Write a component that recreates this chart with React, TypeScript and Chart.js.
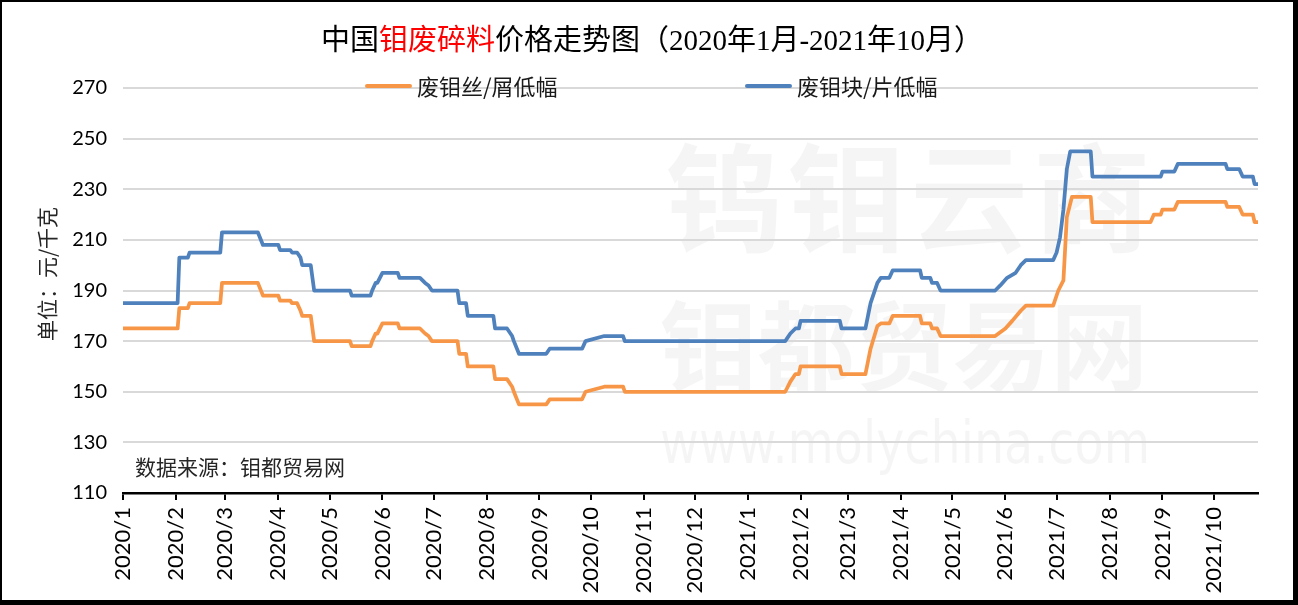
import React, { useEffect, useRef } from "react";
import { Chart, registerables } from "chart.js";

Chart.register(...registerables);

const monthLabels = [
  "2020/1", "2020/2", "2020/3", "2020/4", "2020/5", "2020/6", "2020/7", "2020/8",
  "2020/9", "2020/10", "2020/11", "2020/12", "2021/1", "2021/2", "2021/3", "2021/4",
  "2021/5", "2021/6", "2021/7", "2021/8", "2021/9", "2021/10",
];
const firstDate = "2020-01-01";
const lastDate = "2021-10-27";

const seriesNames = ["废钼丝/屑低幅", "废钼块/片低幅"];
const seriesColors = ["#F79646", "#4F81BD"];

const wireDates = [
  "2020-01-01", "2020-02-02", "2020-02-03", "2020-02-08", "2020-02-09", "2020-02-27", "2020-02-28", "2020-03-20",
  "2020-03-23", "2020-04-01", "2020-04-02", "2020-04-08", "2020-04-09", "2020-04-12", "2020-04-14", "2020-04-15",
  "2020-04-20", "2020-04-22", "2020-05-13", "2020-05-14", "2020-05-25", "2020-05-26", "2020-05-28", "2020-05-29",
  "2020-06-01", "2020-06-10", "2020-06-11", "2020-06-23", "2020-06-26", "2020-06-28", "2020-06-30", "2020-07-15",
  "2020-07-16", "2020-07-20", "2020-07-21", "2020-08-05", "2020-08-06", "2020-08-13", "2020-08-16", "2020-08-17",
  "2020-08-20", "2020-09-05", "2020-09-07", "2020-09-26", "2020-09-28", "2020-10-09", "2020-10-20", "2020-10-21",
  "2021-01-23", "2021-01-26", "2021-01-29", "2021-01-31", "2021-02-01", "2021-02-24", "2021-02-25", "2021-03-11",
  "2021-03-14", "2021-03-18", "2021-03-20", "2021-03-25", "2021-03-27", "2021-04-12", "2021-04-13", "2021-04-18",
  "2021-04-19", "2021-04-22", "2021-04-24", "2021-05-26", "2021-06-01", "2021-06-05", "2021-06-10", "2021-06-13",
  "2021-06-29", "2021-07-02", "2021-07-05", "2021-07-07", "2021-07-10", "2021-07-21", "2021-07-22", "2021-08-25",
  "2021-08-27", "2021-08-31", "2021-09-01", "2021-09-08", "2021-09-10", "2021-10-08", "2021-10-09", "2021-10-16",
  "2021-10-18", "2021-10-24", "2021-10-25", "2021-10-27",
];
const wireValues = [
  175, 175, 183, 183, 185, 185, 193, 193,
  188, 188, 186, 186, 185, 185, 182, 180,
  180, 170, 170, 168, 168, 170, 173, 173,
  177, 177, 175, 175, 173, 172, 170, 170,
  165, 165, 160, 160, 155, 155, 152, 150,
  145, 145, 147, 147, 150, 152, 152, 150,
  150, 154, 157, 157, 160, 160, 157, 157,
  167, 176, 177, 177, 180, 180, 177, 177,
  175, 175, 172, 172, 175, 178, 182, 184,
  184, 190, 194, 219, 227, 227, 217, 217,
  220, 220, 222, 222, 225, 225, 223, 223,
  220, 220, 217, 217,
];

const blockDates = [
  "2020-01-01", "2020-02-02", "2020-02-03", "2020-02-08", "2020-02-09", "2020-02-27", "2020-02-28", "2020-03-20",
  "2020-03-23", "2020-04-01", "2020-04-02", "2020-04-08", "2020-04-09", "2020-04-12", "2020-04-14", "2020-04-15",
  "2020-04-20", "2020-04-22", "2020-05-13", "2020-05-14", "2020-05-25", "2020-05-26", "2020-05-28", "2020-05-29",
  "2020-06-01", "2020-06-10", "2020-06-11", "2020-06-23", "2020-06-26", "2020-06-28", "2020-06-30", "2020-07-15",
  "2020-07-16", "2020-07-20", "2020-07-21", "2020-08-05", "2020-08-06", "2020-08-13", "2020-08-16", "2020-08-17",
  "2020-08-20", "2020-09-05", "2020-09-07", "2020-09-26", "2020-09-28", "2020-10-09", "2020-10-20", "2020-10-21",
  "2021-01-23", "2021-01-26", "2021-01-29", "2021-01-31", "2021-02-01", "2021-02-24", "2021-02-25", "2021-03-11",
  "2021-03-14", "2021-03-18", "2021-03-20", "2021-03-25", "2021-03-27", "2021-04-12", "2021-04-13", "2021-04-18",
  "2021-04-19", "2021-04-22", "2021-04-24", "2021-05-26", "2021-05-29", "2021-06-02", "2021-06-07", "2021-06-10",
  "2021-06-13", "2021-06-29", "2021-07-01", "2021-07-03", "2021-07-05", "2021-07-07", "2021-07-09", "2021-07-21",
  "2021-07-22", "2021-08-31", "2021-09-01", "2021-09-08", "2021-09-10", "2021-10-08", "2021-10-09", "2021-10-16",
  "2021-10-18", "2021-10-24", "2021-10-25", "2021-10-27",
];
const blockValues = [
  185, 185, 203, 203, 205, 205, 213, 213,
  208, 208, 206, 206, 205, 205, 203, 200,
  200, 190, 190, 188, 188, 190, 193, 193,
  197, 197, 195, 195, 193, 192, 190, 190,
  185, 185, 180, 180, 175, 175, 172, 170,
  165, 165, 167, 167, 170, 172, 172, 170,
  170, 173, 175, 175, 178, 178, 175, 175,
  185, 193, 195, 195, 198, 198, 195, 195,
  193, 193, 190, 190, 192, 195, 197, 200,
  202, 202, 205, 211, 222, 238, 245, 245,
  235, 235, 237, 237, 240, 240, 238, 238,
  235, 235, 232, 232,
];

const yMin = 110;
const yMax = 270;
const yStep = 20;

const titleParts = [
  { text: "中国", color: "#000000" },
  { text: "钼废碎料", color: "#FF0000" },
  { text: "价格走势图（2020年1月-2021年10月）", color: "#000000" },
];
const yTitle = "单位：元/千克";
const sourceNote = "数据来源：钼都贸易网";
const watermarkLines = ["钨钼云商", "钼都贸易网", "www.molychina.com"];

function dayOf(s: string): number {
  const parts = s.split(/[-/]/).map(Number);
  const y = parts[0];
  const m = parts[1];
  const d = parts[2] || 1;
  const base = Date.UTC(2020, 0, 1);
  return Math.round((Date.UTC(y, m - 1, d) - base) / 86400000);
}

const CJK = '"Noto Sans CJK SC"';

function drawSpaced(ctx: CanvasRenderingContext2D, text: string, x0: number, x1: number, y: number) {
  const chars = Array.from(text);
  const step = (x1 - x0) / chars.length;
  chars.forEach((c, i) => {
    ctx.fillText(c, x0 + step * (i + 0.5), y);
  });
}

const decorPlugin = {
  id: "decor",
  beforeDraw(chart: any) {
    const { ctx, width, height } = chart;
    ctx.save();
    ctx.fillStyle = "#ffffff";
    ctx.fillRect(0, 0, width, height);
    // faint watermark
    ctx.fillStyle = "rgba(0,0,0,0.038)";
    ctx.textAlign = "center";
    ctx.textBaseline = "middle";
    ctx.font = `bold 118px ${CJK}`;
    drawSpaced(ctx, watermarkLines[0], 661, 1151, 196);
    ctx.font = `bold 98px ${CJK}`;
    drawSpaced(ctx, watermarkLines[1], 658, 1146, 344);
    ctx.font = `58px "DejaVu Sans"`;
    ctx.save();
    const w = ctx.measureText(watermarkLines[2]).width;
    const target = 490;
    ctx.translate(658 + target / 2, 446);
    ctx.scale(target / w, 1);
    ctx.fillText(watermarkLines[2], 0, 0);
    ctx.restore();
    ctx.restore();
  },
  afterDraw(chart: any) {
    const { ctx } = chart;
    ctx.save();
    // title
    ctx.font = `29px "Liberation Serif", ${CJK}`;
    ctx.textBaseline = "middle";
    ctx.textAlign = "left";
    const total = titleParts.reduce((a, p) => a + ctx.measureText(p.text).width, 0);
    let x = 650 - total / 2;
    titleParts.forEach((p) => {
      ctx.fillStyle = p.color;
      ctx.fillText(p.text, x, 40);
      x += ctx.measureText(p.text).width;
    });
    // legend
    const legendStarts = [363, 743];
    const legendY = 84;
    chart.data.datasets.forEach((ds: any, i: number) => {
      const lx = legendStarts[i];
      ctx.strokeStyle = ds.borderColor;
      ctx.lineWidth = 4;
      ctx.lineCap = "round";
      ctx.beginPath();
      ctx.moveTo(lx + 2, legendY);
      ctx.lineTo(lx + 45, legendY);
      ctx.stroke();
      ctx.fillStyle = "#1a1a1a";
      ctx.font = `22px ${CJK}`;
      ctx.textAlign = "left";
      ctx.textBaseline = "middle";
      ctx.fillText(ds.label, lx + 52, legendY + 1);
    });
    // y title
    ctx.save();
    ctx.translate(45, 272);
    ctx.rotate(-Math.PI / 2);
    ctx.fillStyle = "#262626";
    ctx.font = `21px ${CJK}`;
    ctx.textAlign = "center";
    ctx.textBaseline = "middle";
    ctx.fillText(yTitle, 0, 0);
    ctx.restore();
    // source note
    ctx.fillStyle = "#262626";
    ctx.font = `21px ${CJK}`;
    ctx.textAlign = "left";
    ctx.textBaseline = "middle";
    ctx.fillText(sourceNote, chart.chartArea.left + 12, 465);
    ctx.restore();
  },
};

export default function App() {
  const canvasRef = useRef<HTMLCanvasElement | null>(null);

  useEffect(() => {
    if (!canvasRef.current) return;
    const toPoints = (dates: string[], values: number[]) =>
      dates.map((d, i) => ({ x: dayOf(d), y: values[i] }));

    const chart = new Chart(canvasRef.current, {
      type: "line",
      data: {
        datasets: [
          {
            label: seriesNames[0],
            data: toPoints(wireDates, wireValues),
            borderColor: seriesColors[0],
            backgroundColor: seriesColors[0],
            borderWidth: 3.75,
            pointRadius: 0,
            tension: 0,
            borderJoinStyle: "round",
            borderCapStyle: "round",
          },
          {
            label: seriesNames[1],
            data: toPoints(blockDates, blockValues),
            borderColor: seriesColors[1],
            backgroundColor: seriesColors[1],
            borderWidth: 3.75,
            pointRadius: 0,
            tension: 0,
            borderJoinStyle: "round",
            borderCapStyle: "round",
          },
        ],
      },
      options: {
        animation: false,
        responsive: false,
        devicePixelRatio: 1,
        layout: { padding: { top: 86, right: 35, left: 0, bottom: 0 } },
        plugins: {
          legend: { display: false },
          title: { display: false },
          tooltip: { enabled: false },
        },
        scales: {
          x: {
            type: "linear",
            min: dayOf(firstDate),
            max: dayOf(lastDate),
            afterBuildTicks: (axis: any) => {
              axis.ticks = monthLabels.map((l) => ({ value: dayOf(l) }));
            },
            afterFit: (axis: any) => {
              axis.height = 107;
            },
            ticks: {
              autoSkip: false,
              minRotation: 90,
              maxRotation: 90,
              padding: 7,
              color: "#000000",
              font: { family: "Lato", size: 22 },
              callback: (_v: any, i: number) => monthLabels[i],
            },
            grid: {
              drawOnChartArea: false,
              drawTicks: true,
              tickLength: 7,
              color: "#000000",
              lineWidth: 2,
            },
            border: { display: true, color: "#000000", width: 2.5 },
          },
          y: {
            min: yMin,
            max: yMax,
            afterFit: (axis: any) => {
              axis.width = 121;
            },
            ticks: {
              stepSize: yStep,
              padding: 16,
              color: "#000000",
              font: { family: "Lato", size: 20 },
            },
            grid: {
              color: "#d9d9d9",
              lineWidth: 2,
              drawTicks: false,
            },
            border: { display: false },
          },
        },
      },
      plugins: [decorPlugin],
    } as any);

    return () => {
      chart.destroy();
    };
  }, []);

  return (
    <div
      style={{
        position: "absolute",
        left: 0,
        top: 0,
        width: 1298,
        height: 605,
        boxSizing: "border-box",
        borderStyle: "solid",
        borderColor: "#000000",
        borderWidth: "2px 5px 5px 2px",
        background: "#ffffff",
      }}
    >
      <canvas ref={canvasRef} width={1291} height={598} style={{ display: "block", width: 1291, height: 598 }} />
    </div>
  );
}
